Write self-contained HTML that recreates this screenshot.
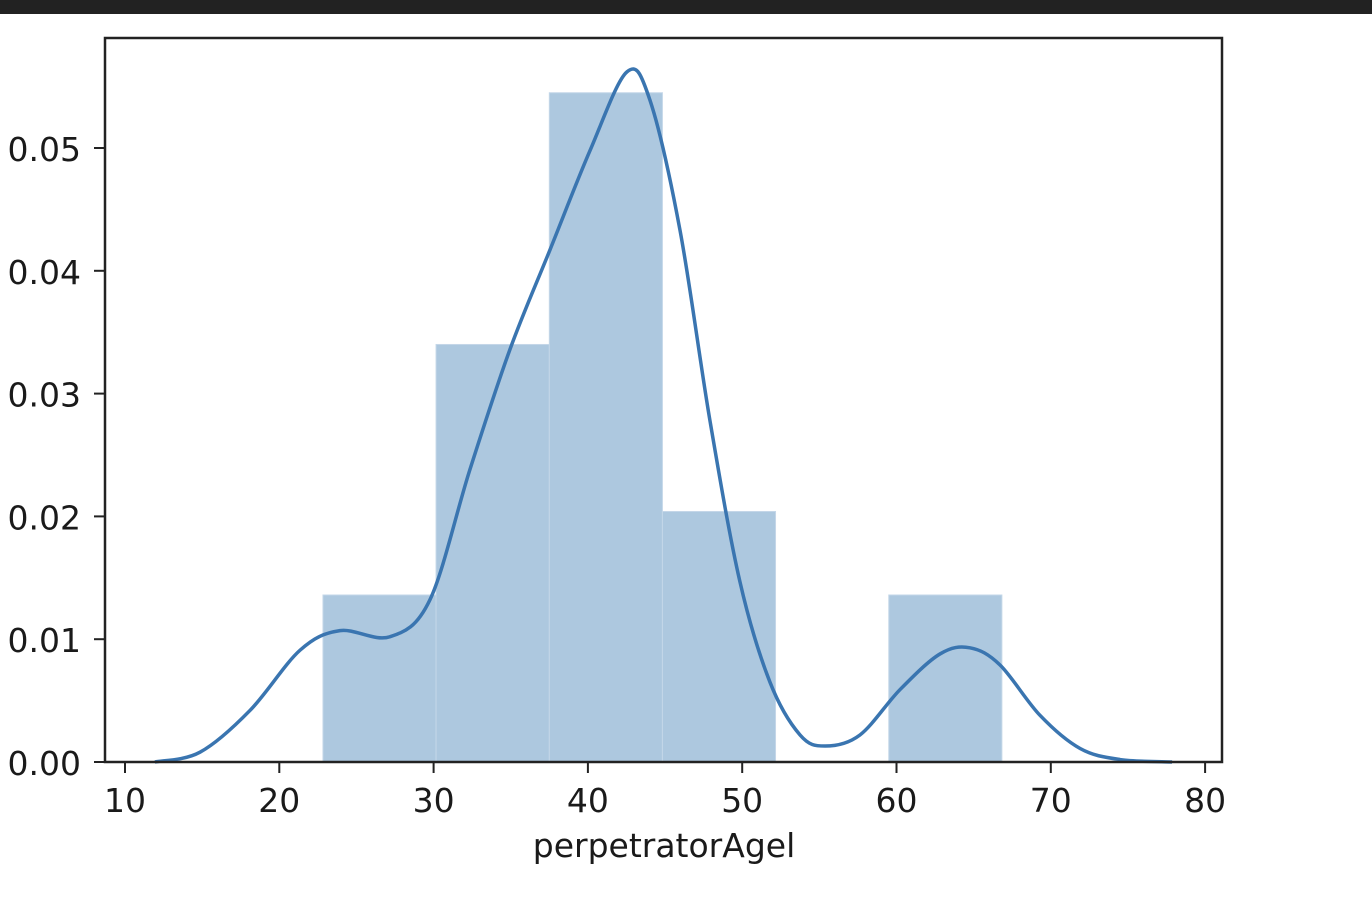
<!DOCTYPE html>
<html><head><meta charset="utf-8">
<style>
body{margin:0;background:#fff;width:1372px;height:908px;overflow:hidden;font-family:"DejaVu Sans","Liberation Sans",sans-serif;}
#topbar{position:absolute;left:0;top:0;width:1372px;height:14px;background:#222;}
svg{position:absolute;left:0;top:0;}
text{font-family:"DejaVu Sans","Liberation Sans",sans-serif;font-size:33px;fill:#1a1a1a;}
</style></head>
<body>
<div id="topbar"></div>
<svg id="chart" width="1372" height="908"></svg>
<script>
const binEdges=[22.83,30.16,37.5,44.83,52.16,59.5,66.83];
const binHeights=[0.0136,0.034,0.0545,0.0204,0,0.0136];
const kdeX=[11.94,14.86,18.1,21.34,23.93,27.17,29.76,32.35,34.95,37.54,40.14,42.53,44.02,45.97,47.91,49.85,51.8,53.75,55.37,57.63,60.23,62.82,64.76,66.71,69.3,71.9,74.49,77.86];
const kdeY=[0,0.0008,0.0042,0.0091,0.0107,0.0102,0.0132,0.0238,0.0336,0.0417,0.0498,0.0562,0.0539,0.0433,0.0278,0.0147,0.0065,0.0022,0.0013,0.0022,0.0059,0.0088,0.0093,0.0079,0.0038,0.0011,0.0002,0];
const xTicks=[10,20,30,40,50,60,70,80];
const yTicks=[0,0.01,0.02,0.03,0.04,0.05];
const yTickLabels=["0.00","0.01","0.02","0.03","0.04","0.05"];
const xLabel="perpetratorAgel";

const L=105,R=1222,T=38,B=762;
const xs=v=>125+(v-10)*15.43;
const ys=v=>762-v*12280;
const NS="http://www.w3.org/2000/svg";
const svg=document.getElementById('chart');
function mk(tag,attrs){const e=document.createElementNS(NS,tag);for(const k in attrs)e.setAttribute(k,attrs[k]);svg.appendChild(e);return e;}

binHeights.forEach((h,i)=>{
  if(h<=0)return;
  const r=mk('rect',{x:xs(binEdges[i]),y:ys(h),width:xs(binEdges[i+1])-xs(binEdges[i]),height:ys(0)-ys(h),fill:'#adc8df',stroke:'#c4d7e8','stroke-width':1});
  
  
});

const P=kdeX.map((x,i)=>[xs(x),ys(kdeY[i])]);
let d=`M${P[0][0]},${P[0][1]}`;
for(let i=0;i<P.length-1;i++){
  const p0=P[Math.max(0,i-1)],p1=P[i],p2=P[i+1],p3=P[Math.min(P.length-1,i+2)];
  d+=` C${p1[0]+(p2[0]-p0[0])/6},${p1[1]+(p2[1]-p0[1])/6} ${p2[0]-(p3[0]-p1[0])/6},${p2[1]-(p3[1]-p1[1])/6} ${p2[0]},${p2[1]}`;
}
const kde=mk('path',{d:d,fill:'none',stroke:'#3a75b0','stroke-width':3.5});



const frame=mk('rect',{x:L,y:T,width:R-L,height:B-T,fill:'none',stroke:'#222','stroke-width':2.5});



xTicks.forEach(v=>{
  const t=mk('line',{x1:xs(v),x2:xs(v),y1:B,y2:B+11,stroke:'#222','stroke-width':2});
  
  
  const l=mk('text',{x:xs(v),y:812,'text-anchor':'middle'});
  l.textContent=v;
  
  
});
yTicks.forEach((v,i)=>{
  const t=mk('line',{x1:L-11,x2:L,y1:ys(v),y2:ys(v),stroke:'#222','stroke-width':2});
  
  
  const l=mk('text',{x:81,y:ys(v)+13,'text-anchor':'end'});
  l.textContent=yTickLabels[i];
  
  
});
const xl=mk('text',{x:664,y:857,'text-anchor':'middle'});
xl.textContent=xLabel;


</script>
</body></html>
